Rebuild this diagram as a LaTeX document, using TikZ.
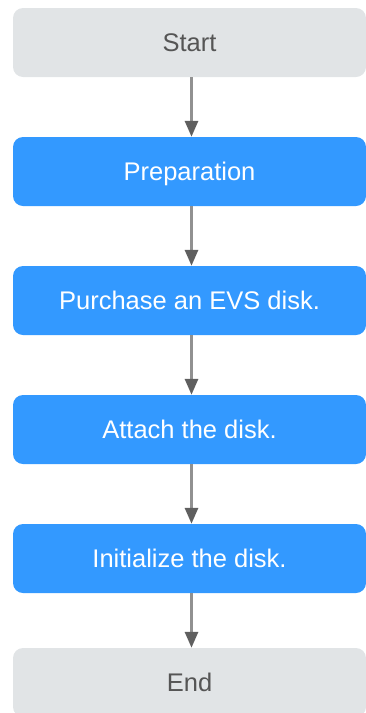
\documentclass[tikz,border=0pt]{standalone}
\usepackage{fontspec}
\setmainfont{Liberation Sans}
\usetikzlibrary{arrows.meta}
\definecolor{boxblue}{RGB}{51,153,255}
\definecolor{boxgray}{RGB}{225,228,230}
\definecolor{textgray}{RGB}{85,85,85}
\definecolor{linegray}{RGB}{145,145,145}
\definecolor{headgray}{RGB}{95,95,95}
\tikzset{
  base/.style={rectangle, rounded corners=10pt, minimum width=353pt, minimum height=69pt,
    inner sep=0pt, text height=18.3pt, text depth=0pt,
    font=\fontsize{25.5}{30}\selectfont},
  termbox/.style={base, fill=boxgray, text=textgray},
  stepbox/.style={base, fill=boxblue, text=white},
  conn/.style={draw=linegray, line width=3pt,
    -{Triangle[width=13pt,length=16pt,fill=headgray,color=headgray]}}
}
\begin{document}
\begin{tikzpicture}[x=1pt,y=1pt]
\clip (0,0) rectangle (366,-713);
\node[termbox] (start) at (189.5,-42.5) {Start};
\node[stepbox] (prep) at (189.5,-171.5) {Preparation};
\node[stepbox] (buy) at (189.5,-300.5) {Purchase an EVS disk.};
\node[stepbox] (attach) at (189.5,-429.5) {Attach the disk.};
\node[stepbox] (init) at (189.5,-558.5) {Initialize the disk.};
\node[termbox] (end) at (189.5,-682.5) {End};
\draw[conn] ([xshift=2pt]start.south) -- ([xshift=2pt]prep.north);
\draw[conn] ([xshift=2pt]prep.south) -- ([xshift=2pt]buy.north);
\draw[conn] ([xshift=2pt]buy.south) -- ([xshift=2pt]attach.north);
\draw[conn] ([xshift=2pt]attach.south) -- ([xshift=2pt]init.north);
\draw[conn] ([xshift=2pt]init.south) -- ([xshift=2pt]end.north);
\end{tikzpicture}
\end{document}
